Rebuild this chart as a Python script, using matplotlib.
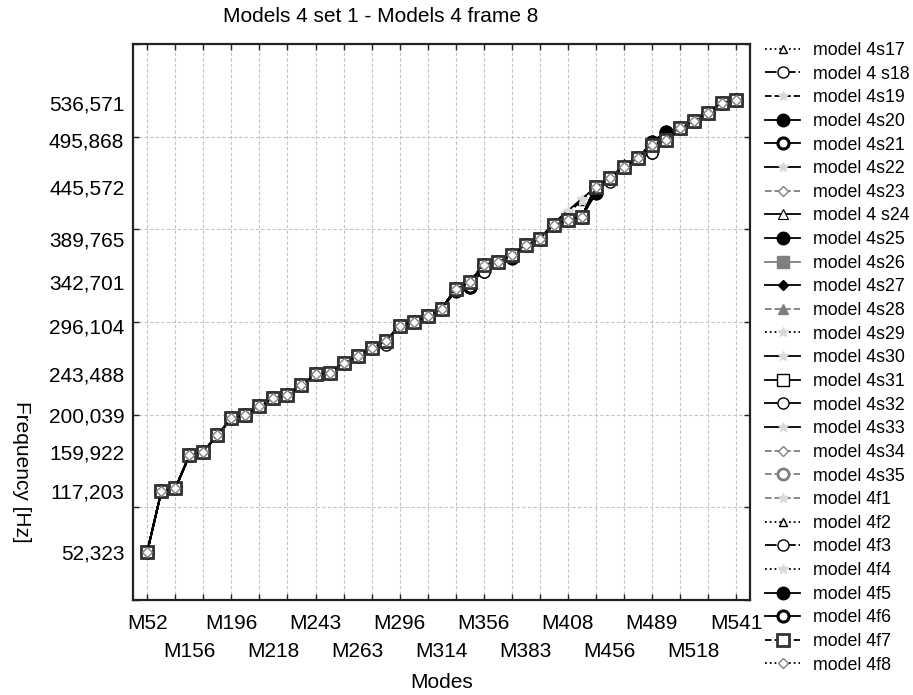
import numpy as np
import matplotlib
matplotlib.use("Agg")
import matplotlib.pyplot as plt

plt.rcParams['font.family'] = ['Liberation Sans', 'DejaVu Sans']

# Mode names (one every third mode along the x axis)
mode_labels = ["M52", "M156", "M196", "M218", "M243", "M263", "M296", "M314",
               "M356", "M383", "M408", "M456", "M489", "M518", "M541"]

# Frequencies of the reference model for each of the 43 modes [Hz]
freq_base = [52.323, 117.203, 120.5, 156.0, 159.922, 178.0, 196.0, 200.039, 209.0,
             218.0, 221.0, 232.0, 243.488, 245.0, 256.0, 263.0, 272.0, 279.0,
             296.104, 300.0, 306.0, 314.0, 336.0, 342.701, 362.0, 365.0, 372.0,
             383.0, 389.765, 404.5, 410.5, 413.5, 445.572, 455.0, 467.5, 476.5,
             491.0, 495.868, 509.0, 517.0, 526.0, 536.571, 540.0]

# Frequencies marked on the y axis
y_marks = [52.323, 117.203, 159.922, 200.039, 243.488, 296.104, 342.701,
           389.765, 445.572, 495.868, 536.571]

models = ["model 4s17", "model 4 s18", "model 4s19", "model 4s20", "model 4s21",
          "model 4s22", "model 4s23", "model 4 s24", "model 4s25", "model 4s26",
          "model 4s27", "model 4s28", "model 4s29", "model 4s30", "model 4s31",
          "model 4s32", "model 4s33", "model 4s34", "model 4s35", "model 4f1",
          "model 4f2", "model 4f3", "model 4f4", "model 4f5", "model 4f6",
          "model 4f7", "model 4f8"]

# Modes where a model departs from the reference frequencies (mode index: Hz)
deviations = {
    "model 4s17": {30: 418.0, 31: 431.0},
    "model 4 s18": {17: 275.0, 24: 354.0, 33: 451.0, 36: 482.0},
    "model 4s19": {30: 418.0, 31: 431.0},
    "model 4s20": {32: 439.0, 36: 494.0, 37: 505.0},
    "model 4s21": {23: 338.0, 26: 369.0},
    "model 4s22": {29: 407.0, 30: 420.0, 31: 433.0},
    "model 4 s24": {34: 470.0},
    "model 4s25": {36: 494.0, 37: 505.0},
    "model 4s27": {29: 407.0},
    "model 4s31": {24: 360.0},
    "model 4f3": {24: 354.0, 36: 482.0},
    "model 4f5": {32: 439.0, 36: 494.0, 37: 505.0},
    "model 4f6": {22: 333.0, 23: 338.0},
}

FAINT = '#d9d9d9'
GREY = '#7f7f7f'
# linestyle, marker, line colour, face colour, edge colour, size, edge width
styles = {
    "model 4s17": (':', '^', 'k', 'white', 'k', 6, 1.0),
    "model 4 s18": ('-.', 'o', 'k', 'white', 'k', 8, 1.0),
    "model 4s19": ('--', '*', 'k', FAINT, FAINT, 7, 1.0),
    "model 4s20": ('-', 'o', 'k', 'k', 'k', 9, 1.0),
    "model 4s21": ('-', 'o', 'k', 'white', 'k', 8, 2.2),
    "model 4s22": ('-', '*', 'k', FAINT, FAINT, 7, 1.0),
    "model 4s23": ('--', 'D', GREY, 'white', GREY, 5, 1.0),
    "model 4 s24": ('-', '^', 'k', 'white', 'k', 7, 0.8),
    "model 4s25": ('-', 'o', 'k', 'k', 'k', 9, 1.0),
    "model 4s26": ('-', 's', GREY, GREY, GREY, 9, 1.0),
    "model 4s27": ('-', 'D', 'k', 'k', 'k', 5, 1.0),
    "model 4s28": ('--', '^', GREY, GREY, GREY, 7, 1.0),
    "model 4s29": (':', '*', 'k', FAINT, FAINT, 7, 1.0),
    "model 4s30": ('-', '*', 'k', FAINT, FAINT, 7, 1.0),
    "model 4s31": ('-', 's', 'k', 'white', 'k', 9, 1.0),
    "model 4s32": ('-', 'o', 'k', 'white', 'k', 8, 1.0),
    "model 4s33": ('-', '*', 'k', FAINT, FAINT, 7, 1.0),
    "model 4s34": ('--', 'D', GREY, 'white', GREY, 5, 1.0),
    "model 4s35": ('--', 'o', GREY, 'white', GREY, 8, 2.0),
    "model 4f1": ('--', '*', GREY, FAINT, FAINT, 7, 1.0),
    "model 4f2": (':', '^', 'k', 'white', 'k', 6, 1.0),
    "model 4f3": ('-.', 'o', 'k', 'white', 'k', 8, 1.0),
    "model 4f4": (':', '*', 'k', FAINT, FAINT, 7, 1.0),
    "model 4f5": ('-', 'o', 'k', 'k', 'k', 9, 1.0),
    "model 4f6": ('-', 'o', 'k', 'white', 'k', 8, 2.2),
    "model 4f7": ('--', 's', 'k', 'white', '#333333', 9, 2.0),
    "model 4f8": (':', 'D', 'k', 'white', GREY, 5, 1.0),
}

fig = plt.figure(figsize=(9.13, 6.95), dpi=100)
ax = fig.add_axes([133.3 / 913, 1 - 600 / 695, (750 - 133.3) / 913, (600 - 44) / 695])

modes = np.arange(len(freq_base))
handles = []
for name in models:
    values = list(freq_base)
    for idx, val in deviations.get(name, {}).items():
        values[idx] = val
    ls, mk, lc, fc, ec, ms, mew = styles[name]
    line, = ax.plot(modes, values, linestyle=ls, color=lc, lw=1.3, marker=mk,
                    markersize=ms, markerfacecolor=fc, markeredgecolor=ec,
                    markeredgewidth=mew, label=name)
    handles.append(line)

ax.set_xlim(-1, 43)
ax.set_ylim(0, 600)

# Major ticks carry the grid; labelled minor ticks carry the mode names,
# staggered over two rows (second row on a secondary axis)
label_pos = np.arange(0, 43, 3)
ax.xaxis.remove_overlapping_locs = False
ax.set_xticks(np.arange(0, 43, 2))
ax.set_xticklabels([])
ax.set_xticks(label_pos[0::2], labels=mode_labels[0::2], minor=True)

row2 = ax.secondary_xaxis('bottom')
row2.set_xticks(label_pos[1::2], labels=mode_labels[1::2])
row2.tick_params(length=0, labelsize=15, pad=30)
row2.spines['bottom'].set_visible(False)

ax.set_yticks(np.arange(0, 601, 100))
ax.set_yticklabels([])
ax.set_yticks(y_marks, labels=[f"{v:.3f}".replace('.', ',') for v in y_marks], minor=True)

ax.tick_params(which='major', direction='in', length=4, width=1.0, color='#222222',
               top=True, right=True, labelbottom=False, labelleft=False)
ax.tick_params(which='minor', length=0, labelsize=15, top=False, right=False)
ax.tick_params(axis='y', which='minor', pad=6.5)
ax.tick_params(axis='x', which='minor', pad=10)

ax.grid(which='major', linestyle=(0, (3, 2)), color='#c4c4c4', linewidth=0.8)
ax.set_axisbelow(True)
for sp in ax.spines.values():
    sp.set_linewidth(1.6)
    sp.set_color('#222222')

fig.text(380.5 / 913, 1 - 16.7 / 695, "Models 4 set 1 - Models 4 frame 8",
         fontsize=15, ha='center', va='center')
fig.text(441.7 / 913, 1 - 682.5 / 695, "Modes", fontsize=15, ha='center', va='center')
fig.text(21.7 / 913, 1 - 472 / 695, "Frequency [Hz]", fontsize=15, rotation=270,
         ha='center', va='center')

fig.legend(handles, models, loc='upper left', bbox_to_anchor=(765 / 913, 1 - 42 / 695),
           frameon=False, fontsize=12.75, labelspacing=0.375, handlelength=2.0,
           handletextpad=0.7, borderaxespad=0, borderpad=0)

fig.savefig("out.png", dpi=100)
